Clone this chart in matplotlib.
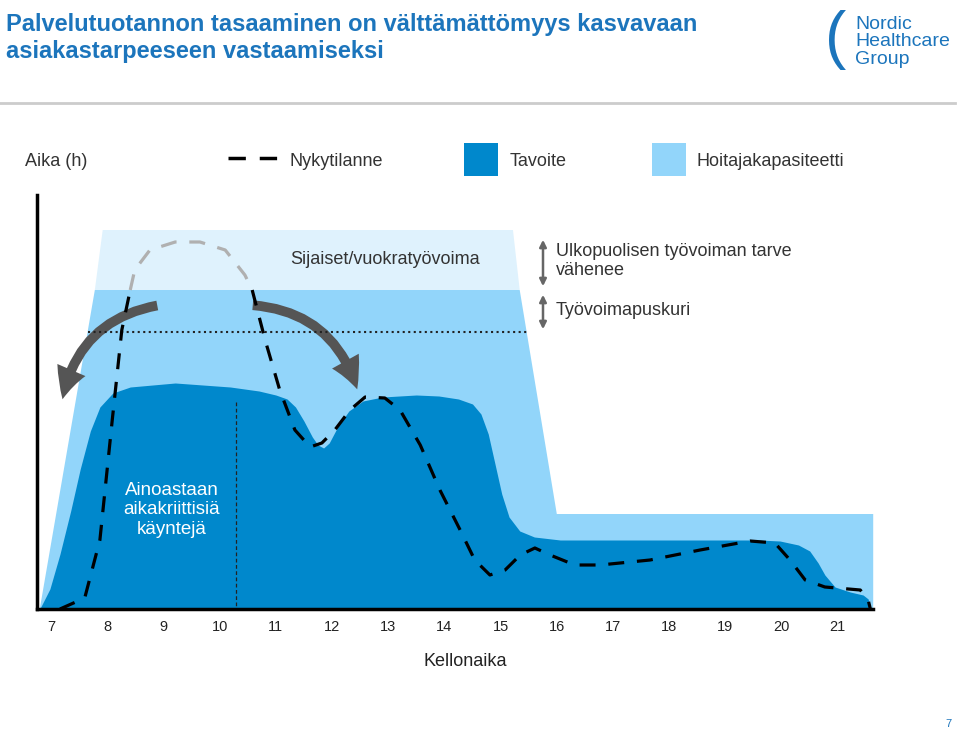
import numpy as np
import matplotlib.pyplot as plt
from matplotlib.patches import Polygon, Rectangle, FancyArrowPatch

plt.rcParams['font.family'] = 'Liberation Sans'

# hours on x, "staff level" on y (arbitrary units)
hours = list(range(7, 22))

cap_x = [6.8, 7.78, 15.34, 16.0, 21.63, 21.63]
cap_y = [0.0, 3.19, 3.19, 0.95, 0.95, 0.0]
sub_x = [7.92, 15.22, 15.34, 7.78]
sub_y = [3.79, 3.79, 3.19, 3.19]

goal_x = [6.8, 6.98, 7.16, 7.35, 7.52, 7.7, 7.87, 8.1, 8.41, 9.21, 10.19, 10.7, 11.0,
          11.2, 11.35, 11.5, 11.65, 11.75, 11.85, 11.95, 12.1, 12.3, 12.55, 12.9,
          13.5, 13.9, 14.25, 14.5, 14.65, 14.78, 14.9, 15.02, 15.15, 15.34, 15.6,
          16.06, 18.55, 19.6, 19.97, 20.3, 20.5, 20.65, 20.77, 20.95, 21.22, 21.45,
          21.54, 21.58]
goal_y = [0.0, 0.2, 0.55, 0.98, 1.4, 1.78, 2.02, 2.16, 2.22, 2.26, 2.22, 2.18, 2.14,
          2.1, 2.02, 1.88, 1.72, 1.64, 1.61, 1.66, 1.82, 1.98, 2.08, 2.12,
          2.14, 2.13, 2.1, 2.05, 1.95, 1.75, 1.45, 1.15, 0.92, 0.78, 0.72,
          0.69, 0.69, 0.69, 0.68, 0.64, 0.58, 0.46, 0.34, 0.22, 0.17, 0.14,
          0.1, 0.0]

now_x = [7.16, 7.60, 7.87, 8.09, 8.26, 8.41, 8.49, 8.76, 9.21, 9.65, 10.10, 10.45,
         10.58, 10.81, 11.07, 11.34, 11.61, 11.82, 12.05, 12.32, 12.59, 12.94,
         13.21, 13.57, 13.92, 14.28, 14.54, 14.81, 15.08, 15.35, 15.61, 15.88,
         16.32, 16.77, 17.66, 18.55, 19.44, 19.88, 20.15, 20.42, 20.77, 21.40, 21.54, 21.58]
now_y = [0.0, 0.11, 0.69, 1.89, 2.79, 3.19, 3.39, 3.59, 3.67, 3.67, 3.59, 3.34,
         3.19, 2.69, 2.19, 1.79, 1.62, 1.66, 1.79, 1.99, 2.12, 2.11,
         1.99, 1.64, 1.19, 0.79, 0.49, 0.34, 0.39, 0.54, 0.61, 0.54,
         0.44, 0.44, 0.49, 0.59, 0.68, 0.66, 0.49, 0.29, 0.22, 0.19, 0.09, 0.0]

DARK = '#0088cc'
LIGHT = '#92d5fa'
PALE = '#dff2fd'
TITLE = '#1c75bc'

fig = plt.figure(figsize=(9.6, 7.34), dpi=100)
ax = fig.add_axes([0, 0, 1, 1])
ax.set_xlim(7 - 51 / 56.2, 7 + 909 / 56.2)
ax.set_ylim(-1.25, 6.09)
ax.axis('off')

def px(x, y):
    return 7 + (x - 51) / 56.2, (609 - y) / 100

ax.add_patch(Polygon(list(zip(sub_x, sub_y)), closed=True, color=PALE, lw=0))
ax.add_patch(Polygon(list(zip(cap_x, cap_y)), closed=True, color=LIGHT, lw=0))
ax.fill_between(goal_x, goal_y, color=DARK, lw=0)

# dotted buffer line and split line
ax.plot([px(88, 0)[0], px(528, 0)[0]], [px(0, 332)[1]] * 2, ls=':', color='#222', lw=1.5)
ax.plot([px(236, 0)[0]] * 2, [px(0, 402)[1], 0], ls='--', color='#222', lw=0.9, dashes=(3, 2))

# current situation (grey where above capacity)
i0, i1 = 5, 12
ax.plot(now_x[:i0 + 1], now_y[:i0 + 1], color='black', lw=2.3, dashes=(5, 4))
ax.plot(now_x[i0:i1 + 1], now_y[i0:i1 + 1], color='#b0b0b0', lw=2.3, dashes=(5, 4))
ax.plot(now_x[i1:], now_y[i1:], color='black', lw=2.3, dashes=(5, 4))

# axes lines
ax.plot([px(37, 0)[0]] * 2, [px(0, 195)[1], 0], color='black', lw=2.5)
ax.plot([px(37, 0)[0], px(873, 0)[0]], [0, 0], color='black', lw=2.5)
for h in hours:
    ax.text(h, px(0, 627)[1], str(h), ha='center', va='center', fontsize=10.5, color='#222')
ax.text(*px(465, 662), 'Kellonaika', ha='center', va='center', fontsize=13, color='#222')

# curved arrows
for a, b, r in [((160, 305), (62, 402), 0.35), ((250, 305), (358, 392), -0.35)]:
    ax.add_patch(FancyArrowPatch(px(*a), px(*b), connectionstyle=f'arc3,rad={r}',
                                 arrowstyle='simple,head_width=22,head_length=22,tail_width=7',
                                 color='#555555', lw=0))
# double arrows on right
for y0, y1 in [(237, 289), (292, 332)]:
    ax.annotate('', xy=px(543, y0), xytext=px(543, y1),
                arrowprops=dict(arrowstyle='<|-|>', color='#666', lw=1.8, mutation_scale=10))

ax.text(*px(385, 260), 'Sijaiset/vuokratyövoima', ha='center', va='center', fontsize=13, color='#333')
ax.text(*px(556, 261), 'Ulkopuolisen työvoiman tarve\nvähenee', ha='left', va='center',
        fontsize=13, color='#333', linespacing=1.2)
ax.text(*px(556, 311), 'Työvoimapuskuri', ha='left', va='center', fontsize=13, color='#333')
ax.text(*px(172, 510), 'Ainoastaan\naikakriittisiä\nkäyntejä', ha='center', va='center',
        fontsize=13.5, color='white', linespacing=1.2)

# legend row
ax.text(*px(25, 162), 'Aika (h)', ha='left', va='center', fontsize=13, color='#333')
ax.plot([px(228, 0)[0], px(285, 0)[0]], [px(0, 158)[1]] * 2, color='black', lw=2.5, dashes=(5, 4))
ax.text(*px(290, 162), 'Nykytilanne', ha='left', va='center', fontsize=13, color='#333')
ax.add_patch(Rectangle(px(464, 176), 34 / 56.2, 0.33, color=DARK, lw=0))
ax.text(*px(510, 162), 'Tavoite', ha='left', va='center', fontsize=13, color='#333')
ax.add_patch(Rectangle(px(652, 176), 34 / 56.2, 0.33, color=LIGHT, lw=0))
ax.text(*px(697, 162), 'Hoitajakapasiteetti', ha='left', va='center', fontsize=13, color='#333')

# header
ax.text(*px(6, 38), 'Palvelutuotannon tasaaminen on välttämättömyys kasvavaan\nasiakastarpeeseen vastaamiseksi',
        ha='left', va='center', fontsize=17, fontweight='bold', color=TITLE, linespacing=1.2)
ax.plot([px(0, 0)[0], px(955, 0)[0]], [px(0, 103)[1]] * 2, color='#cccccc', lw=2)
ax.text(*px(855, 42), 'Nordic\nHealthcare\nGroup', ha='left', va='center', fontsize=14,
        color=TITLE, linespacing=1.05)
ax.text(*px(836, 40), '(', ha='center', va='center', fontsize=46, color=TITLE)
ax.text(*px(952, 724), '7', ha='right', va='center', fontsize=8, color=TITLE)

fig.savefig('out.png', dpi=100)
